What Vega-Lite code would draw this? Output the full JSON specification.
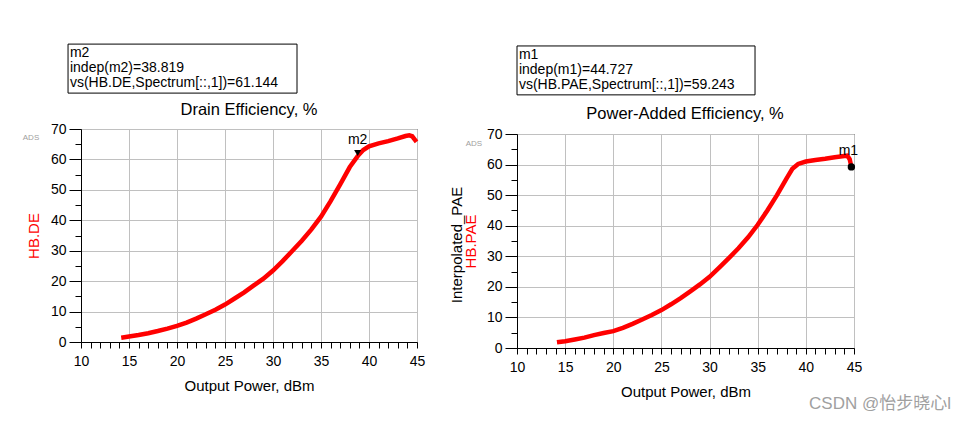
{
  "$schema": "https://vega.github.io/schema/vega-lite/v6.json",
  "background": "white",
  "padding": {"left": 22, "top": 43, "right": 0, "bottom": 0},
  "bounds": "flush",
  "spacing": 100,
  "config": {
    "font": "Liberation Sans",
    "view": {"stroke": "black", "strokeWidth": 1},
    "axis": {
      "labelFont": "Liberation Sans", "labelFontSize": 14, "labelColor": "black",
      "titleFont": "Liberation Sans", "titleFontSize": 15, "titleFontWeight": "normal", "titleColor": "black",
      "domainColor": "black", "tickColor": "black", "gridColor": "#c0c0c0", "gridOpacity": 1,
      "labelOverlap": false, "labelFlush": false, "tickCount": 200, "format": "d"
    }
  },
  "datasets": {
    "de": [
      {"pout": 14.19, "eff": 1.43}, {"pout": 15.0, "eff": 1.8}, {"pout": 16.0, "eff": 2.3}, {"pout": 17.0, "eff": 2.9},
      {"pout": 18.0, "eff": 3.6}, {"pout": 19.0, "eff": 4.4}, {"pout": 20.0, "eff": 5.3}, {"pout": 21.0, "eff": 6.4},
      {"pout": 22.0, "eff": 7.7}, {"pout": 23.0, "eff": 9.1}, {"pout": 24.0, "eff": 10.6}, {"pout": 25.0, "eff": 12.3},
      {"pout": 26.0, "eff": 14.3}, {"pout": 27.0, "eff": 16.3}, {"pout": 28.0, "eff": 18.6}, {"pout": 29.0, "eff": 20.8},
      {"pout": 30.0, "eff": 23.5}, {"pout": 31.0, "eff": 26.6}, {"pout": 32.0, "eff": 29.9}, {"pout": 33.0, "eff": 33.3},
      {"pout": 34.0, "eff": 37.0}, {"pout": 35.0, "eff": 41.2}, {"pout": 36.0, "eff": 46.3}, {"pout": 37.0, "eff": 51.8},
      {"pout": 38.0, "eff": 57.5}, {"pout": 38.82, "eff": 61.1}, {"pout": 39.4, "eff": 63.1}, {"pout": 40.0, "eff": 64.3},
      {"pout": 41.0, "eff": 65.3}, {"pout": 42.0, "eff": 66.0}, {"pout": 43.0, "eff": 66.9}, {"pout": 43.8, "eff": 67.7},
      {"pout": 44.2, "eff": 67.9}, {"pout": 44.5, "eff": 67.6}, {"pout": 44.75, "eff": 66.6}, {"pout": 44.95, "eff": 65.8}
    ],
    "pae": [
      {"pout": 14.15, "eff": 1.85}, {"pout": 15.0, "eff": 2.2}, {"pout": 16.0, "eff": 2.8}, {"pout": 17.0, "eff": 3.4},
      {"pout": 18.0, "eff": 4.2}, {"pout": 19.0, "eff": 4.9}, {"pout": 20.0, "eff": 5.5}, {"pout": 21.0, "eff": 6.6},
      {"pout": 22.0, "eff": 7.9}, {"pout": 23.0, "eff": 9.3}, {"pout": 24.0, "eff": 10.8}, {"pout": 25.0, "eff": 12.4},
      {"pout": 26.0, "eff": 14.3}, {"pout": 27.0, "eff": 16.3}, {"pout": 28.0, "eff": 18.5}, {"pout": 29.0, "eff": 20.8},
      {"pout": 30.0, "eff": 23.3}, {"pout": 31.0, "eff": 26.3}, {"pout": 32.0, "eff": 29.4}, {"pout": 33.0, "eff": 32.6},
      {"pout": 34.0, "eff": 36.2}, {"pout": 35.0, "eff": 40.3}, {"pout": 36.0, "eff": 45.0}, {"pout": 37.0, "eff": 50.0},
      {"pout": 38.0, "eff": 55.5}, {"pout": 38.6, "eff": 58.6}, {"pout": 39.2, "eff": 60.2}, {"pout": 40.0, "eff": 61.0},
      {"pout": 41.0, "eff": 61.5}, {"pout": 42.0, "eff": 61.9}, {"pout": 43.0, "eff": 62.4}, {"pout": 44.0, "eff": 62.8},
      {"pout": 44.3, "eff": 62.9}, {"pout": 44.55, "eff": 61.8}, {"pout": 44.73, "eff": 59.24}
    ],
    "markers": [
      {"name": "m2", "pout": 38.819, "eff": 61.144, "note": "m2\nindep(m2)=38.819\nvs(HB.DE,Spectrum[::,1])=61.144", "title": "Drain Efficiency, %"},
      {"name": "m1", "pout": 44.727, "eff": 59.243, "note": "m1\nindep(m1)=44.727\nvs(HB.PAE,Spectrum[::,1])=59.243", "title": "Power-Added Efficiency, %"}
    ],
    "tags": [
      {"tag": "ADS", "extra": "Interpolated_PAE", "mark": "CSDN @怡步晓心l"}
    ]
  },
  "hconcat": [
    {
      "width": 336,
      "height": 213,
      "layer": [
        {
          "data": {"name": "de"},
          "mark": {"type": "line", "color": "#ff0000", "strokeWidth": 4.5, "strokeCap": "butt"},
          "encoding": {
            "x": {"field": "pout", "type": "quantitative", "scale": {"domain": [10, 45], "nice": false, "zero": false},
              "axis": {"title": "Output Power, dBm", "values": [10,11,12,13,14,15,16,17,18,19,20,21,22,23,24,25,26,27,28,29,30,31,32,33,34,35,36,37,38,39,40,41,42,43,44,45],
                "labelExpr": "datum.value % 5 === 0 ? datum.label : ''", "tickSize": 6, "labelPadding": 6, "titlePadding": 10,
                "gridOpacity": {"condition": {"test": "datum.value % 5 === 0", "value": 1}, "value": 0}}},
            "y": {"field": "eff", "type": "quantitative", "scale": {"domain": [0, 70], "nice": false},
              "axis": {"title": "HB.DE", "titleColor": "#ff0000", "values": [0,5,10,15,20,25,30,35,40,45,50,55,60,65,70],
                "labelExpr": "datum.value % 10 === 0 ? datum.label : ''",
                "tickSize": {"condition": {"test": "datum.value % 10 === 0", "value": 12}, "value": 6},
                "labelPadding": 3, "titlePadding": 9,
                "gridOpacity": {"condition": {"test": "datum.value % 10 === 0", "value": 1}, "value": 0}}}
          }
        },
        {
          "data": {"name": "markers"},
          "transform": [{"filter": "datum.name === 'm2'"}],
          "mark": {"type": "rect", "fill": "white", "stroke": "black", "strokeWidth": 1},
          "encoding": {"x": {"datum": 8.65}, "x2": {"datum": 32.5}, "y": {"datum": 97.9}, "y2": {"datum": 81.8}}
        },
        {
          "data": {"name": "markers"},
          "transform": [{"filter": "datum.name === 'm2'"}],
          "mark": {"type": "text", "align": "left", "baseline": "top", "fontSize": 14, "lineHeight": 15, "lineBreak": "\n", "color": "black"},
          "encoding": {"x": {"datum": 8.85}, "y": {"datum": 97.3}, "text": {"field": "note"}}
        },
        {
          "data": {"name": "markers"},
          "transform": [{"filter": "datum.name === 'm2'"}],
          "mark": {"type": "text", "fontSize": 16.5, "color": "black", "baseline": "middle"},
          "encoding": {"x": {"datum": 27.5}, "y": {"datum": 76.4}, "text": {"field": "title"}}
        },
        {
          "data": {"name": "markers"},
          "transform": [{"filter": "datum.name === 'm2'"}],
          "mark": {"type": "point", "shape": "triangle-down", "filled": true, "color": "black", "size": 50, "opacity": 1, "yOffset": -3},
          "encoding": {"x": {"field": "pout", "type": "quantitative"}, "y": {"field": "eff", "type": "quantitative"}}
        },
        {
          "data": {"name": "markers"},
          "transform": [{"filter": "datum.name === 'm2'"}],
          "mark": {"type": "text", "fontSize": 14, "color": "black", "dy": -16},
          "encoding": {"x": {"field": "pout", "type": "quantitative"}, "y": {"field": "eff", "type": "quantitative"}, "text": {"field": "name"}}
        },
        {
          "data": {"name": "tags"},
          "mark": {"type": "text", "fontSize": 8, "color": "#a0a0a0"},
          "encoding": {"x": {"datum": 4.79}, "y": {"datum": 67.0}, "text": {"field": "tag"}}
        }
      ]
    },
    {
      "vconcat": [
        {
          "width": 337,
          "height": 1,
          "view": {"stroke": null},
          "data": {"values": []},
          "mark": {"type": "point", "opacity": 0},
          "encoding": {}
        },
        {
          "width": 337,
          "height": 214,
          "layer": [
            {
              "data": {"name": "pae"},
              "mark": {"type": "line", "color": "#ff0000", "strokeWidth": 4.5, "strokeCap": "butt"},
              "encoding": {
                "x": {"field": "pout", "type": "quantitative", "scale": {"domain": [10, 45], "nice": false, "zero": false},
                  "axis": {"title": "Output Power, dBm", "values": [10,11,12,13,14,15,16,17,18,19,20,21,22,23,24,25,26,27,28,29,30,31,32,33,34,35,36,37,38,39,40,41,42,43,44,45],
                    "labelExpr": "datum.value % 5 === 0 ? datum.label : ''", "tickSize": 6, "labelPadding": 6, "titlePadding": 10,
                    "gridOpacity": {"condition": {"test": "datum.value % 5 === 0", "value": 1}, "value": 0}}},
                "y": {"field": "eff", "type": "quantitative", "scale": {"domain": [0, 70], "nice": false},
                  "axis": {"title": "HB.PAE", "titleColor": "#ff0000", "values": [0,5,10,15,20,25,30,35,40,45,50,55,60,65,70],
                    "labelExpr": "datum.value % 10 === 0 ? datum.label : ''",
                    "tickSize": {"condition": {"test": "datum.value % 10 === 0", "value": 12}, "value": 6},
                    "labelPadding": 3, "titlePadding": 8,
                    "gridOpacity": {"condition": {"test": "datum.value % 10 === 0", "value": 1}, "value": 0}}}
              }
            },
            {
              "data": {"name": "markers"},
              "transform": [{"filter": "datum.name === 'm1'"}],
              "mark": {"type": "rect", "fill": "white", "stroke": "black", "strokeWidth": 1},
              "encoding": {"x": {"datum": 10.0}, "x2": {"datum": 34.72}, "y": {"datum": 98.8}, "y2": {"datum": 82.8}}
            },
            {
              "data": {"name": "markers"},
              "transform": [{"filter": "datum.name === 'm1'"}],
              "mark": {"type": "text", "align": "left", "baseline": "top", "fontSize": 14, "lineHeight": 15, "lineBreak": "\n", "color": "black"},
              "encoding": {"x": {"datum": 10.2}, "y": {"datum": 98.2}, "text": {"field": "note"}}
            },
            {
              "data": {"name": "markers"},
              "transform": [{"filter": "datum.name === 'm1'"}],
              "mark": {"type": "text", "fontSize": 16.5, "color": "black", "baseline": "middle"},
              "encoding": {"x": {"datum": 27.45}, "y": {"datum": 76.5}, "text": {"field": "title"}}
            },
            {
              "data": {"name": "markers"},
              "transform": [{"filter": "datum.name === 'm1'"}],
              "mark": {"type": "point", "shape": "circle", "filled": true, "color": "black", "size": 55, "opacity": 1},
              "encoding": {"x": {"field": "pout", "type": "quantitative"}, "y": {"field": "eff", "type": "quantitative"}}
            },
            {
              "data": {"name": "markers"},
              "transform": [{"filter": "datum.name === 'm1'"}],
              "mark": {"type": "text", "fontSize": 14, "color": "black", "dy": -16, "dx": -3},
              "encoding": {"x": {"field": "pout", "type": "quantitative"}, "y": {"field": "eff", "type": "quantitative"}, "text": {"field": "name"}}
            },
            {
              "data": {"name": "tags"},
              "mark": {"type": "text", "fontSize": 8, "color": "#a0a0a0"},
              "encoding": {"x": {"datum": 5.53}, "y": {"datum": 66.7}, "text": {"field": "tag"}}
            },
            {
              "data": {"name": "tags"},
              "mark": {"type": "text", "fontSize": 15, "color": "black", "angle": 270},
              "encoding": {"x": {"datum": 3.77}, "y": {"datum": 33.7}, "text": {"field": "extra"}}
            },
            {
              "data": {"name": "tags"},
              "mark": {"type": "text", "fontSize": 17, "color": "#a0a0a0", "font": "Liberation Sans, Noto Sans CJK SC"},
              "encoding": {"x": {"datum": 47.7}, "y": {"datum": -18.3}, "text": {"field": "mark"}}
            }
          ]
        }
      ],
      "spacing": 4,
      "bounds": "flush"
    }
  ]
}
